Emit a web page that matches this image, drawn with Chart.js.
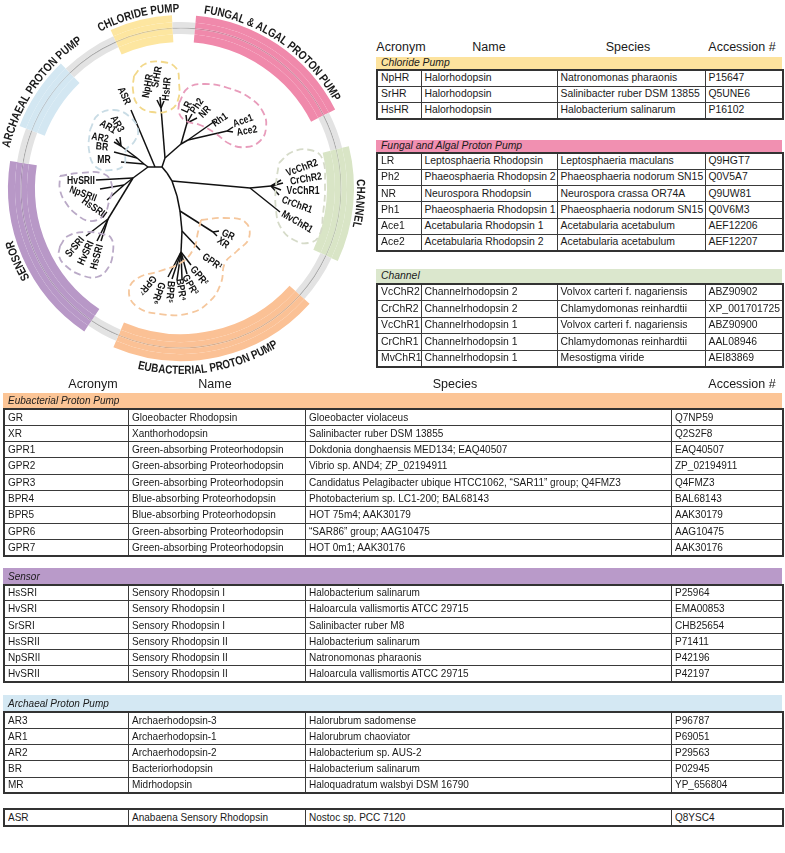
<!DOCTYPE html>
<html>
<head>
<meta charset="utf-8">
<script src="https://cdn.jsdelivr.net/npm/chart.js@4.4.0/dist/chart.umd.min.js"></script>
<style>
body{margin:0;background:#fff;width:785px;height:853px;position:relative;overflow:hidden;font-family:"Liberation Sans",Arial,sans-serif;color:#1a1a1a}
#ring,#tree{position:absolute;left:0;top:0;width:372px;height:400px}
.hdr{position:absolute;font-size:12.5px;transform:translate(-50%,-50%);white-space:nowrap}
.band{position:absolute;font-style:italic;padding-left:5px;box-sizing:border-box;white-space:nowrap}
table{position:absolute;border-collapse:collapse;table-layout:fixed;border:2px solid #333}
td{border:1px solid #3a3a3a;padding:0 0 0 3px;white-space:nowrap;overflow:hidden;line-height:1}
.top{font-size:10.4px}
.bot{font-size:11.4px}
.bot span{display:inline-block;transform:scaleX(0.88);transform-origin:0 50%}
</style>
</head>
<body>
<canvas id="ring" width="372" height="400"></canvas>
<canvas id="tree" width="372" height="400"></canvas>
<script>
// ring groups, angles in degrees clockwise from the top
const groupLabels = ['FUNGAL & ALGAL PROTON PUMP', 'CHANNEL', 'EUBACTERIAL PROTON PUMP', 'SENSOR', 'ARCHAEAL PROTON PUMP', 'CHLORIDE PUMP'];
const groupStart = [5, 76, 132, 214, 291, 336];
const groupEnd = [63, 115, 203, 279, 316, 357];
const groupColors = ['#f089ab', '#d9e5c6', '#fbc195', '#b898c7', '#d3e7f2', '#fde6a0'];
const labelAngle = [34, 95, 171, 246, 304.5, 346];

// tree: node, parent, position
const treeNode   = ['A','S','B','G','HR','NpHR','SrHR','HsHR','H','LRn','LR','Ph2','NR','J','Rh1','AceN','Ace1','Ace2','ASR','K','MR','L','BR','ARn','AR2','AR1','AR3','F','HvSRII','F2','NpSRII','HsSRII','SRIn','SrSRI','HvSRI','HsSRI','Bc','C','D','ChN','VcChR2','CrChR2','VcChR1','CrChR1','MvChR1','Cd','E','GXn','GR','XR','P','GPR1','Q','GPR2','GPR3','BPR4','BPR5','GPR6','GPR7'];
const treeParent = [null,'A','S','B','G','HR','HR','HR','G','H','LRn','LRn','LRn','H','J','J','AceN','AceN','S','A','K','K','L','L','ARn','ARn','ARn','A','F','F','F2','F2','F','SRIn','SRIn','SRIn','B','Bc','C','D','ChN','ChN','ChN','ChN','D','C','Cd','E','GXn','GXn','E','P','P','Q','Q','Q','Q','Q','Q'];
const treeX = [148,155,162,165,161,157,160,164,181,187,186,192,197,188,215,227,233,233,131,144,121,137,114,121,114,116,120,133,96,124,100,107,108,86,97,101,167,172,250,271,281,283,281,279,280,177,180,213,219,217,182,200,181,191,187,182,177,172,168];
const treeY = [167,167,167,158,108,100,97,101,144,123,115,114,118,140,121,131,127,132,110,164,162,158,152,146,142,139,137,178,180,185,189,200,219,236,241,241,173,181,188,186,180,183,190,195,212,196,211,232,231,236,231,250,252,265,274,279,280,279,277];

// leaf labels
const leafLabels = ['NpHR','SrHR','HsHR','LR','Ph2','NR','Rh1','Ace1','Ace2','ASR','AR3','AR1','AR2','BR','MR','HvSRII','NpSRII','HsSRII','SrSRI','HvSRI','HsSRI','VcChR2','CrChR2','VcChR1','CrChR1','MvChR1','GR','XR','GPR¹','GPR²','GPR³','BPR⁴','BPR⁵','GPR⁶','GPR⁷'];
const leafLX = [148,157,167,187,197,205,220,243,247,124,117,108,100,102,104,81,83,94,75,86,97,302,306,303,297,297,228,223,212,199,190,181,170,158,147];
const leafLY = [86,77,89,107,106,112,120,121,131,96,124,127,138,147,160,181,194,208,247,253,257,168,179,191,205,222,235,243,262,276,285,290,292,293,285];
const leafRot = [-80,-80,-85,-65,-55,-45,-35,-20,-10,65,60,30,10,5,0,0,20,35,-50,-65,-75,-20,-10,0,20,30,25,35,35,50,60,80,95,110,130];

// dashed clade outlines
const cladeColors = ['#f2d88a', '#e89cbb', '#c9dce5', '#baaac7', '#baaac7', '#d6dbc9', '#f5c79d'];
const cladeX = [
  [134,145,163,176,179,178,170,152,138,133],
  [179,188,205,228,250,263,266,260,246,230,215,200,186,179],
  [90,98,114,130,138,134,126,124,112,96,89],
  [60,80,104,112,109,103,90,76,66,60],
  [60,68,86,102,111,113,108,97,81,66,59],
  [279,292,310,322,325,323,319,308,294,281,276,276],
  [201,224,245,249,237,225,221,210,190,160,136,129,138,160,182,194,198]
];
const cladeY = [
  [76,64,62,68,82,100,110,112,105,90],
  [103,88,84,88,98,112,128,141,147,144,133,125,121,113],
  [130,115,110,117,130,142,150,165,170,167,150],
  [176,173,174,186,202,216,221,214,203,190],
  [246,236,232,234,238,252,268,277,275,266,256],
  [163,152,150,158,185,214,236,243,240,228,210,185],
  [220,218,222,238,251,263,283,301,313,314,306,290,278,271,262,248,232]
];

// tables
const colHeaders = ['Acronym', 'Name', 'Species', 'Accession #'];
const chlorideRows = [
  ['NpHR','Halorhodopsin','Natronomonas pharaonis','P15647'],
  ['SrHR','Halorhodopsin','Salinibacter ruber DSM 13855','Q5UNE6'],
  ['HsHR','Halorhodopsin','Halobacterium salinarum','P16102']
];
const fungalRows = [
  ['LR','Leptosphaeria Rhodopsin','Leptosphaeria maculans','Q9HGT7'],
  ['Ph2','Phaeosphaeria Rhodopsin 2','Phaeosphaeria nodorum SN15','Q0V5A7'],
  ['NR','Neurospora Rhodopsin','Neurospora crassa OR74A','Q9UW81'],
  ['Ph1','Phaeosphaeria Rhodopsin 1','Phaeosphaeria nodorum SN15','Q0V6M3'],
  ['Ace1','Acetabularia Rhodopsin 1','Acetabularia acetabulum','AEF12206'],
  ['Ace2','Acetabularia Rhodopsin 2','Acetabularia acetabulum','AEF12207']
];
const channelRows = [
  ['VcChR2','Channelrhodopsin 2','Volvox carteri f. nagariensis','ABZ90902'],
  ['CrChR2','Channelrhodopsin 2','Chlamydomonas reinhardtii','XP_001701725'],
  ['VcChR1','Channelrhodopsin 1','Volvox carteri f. nagariensis','ABZ90900'],
  ['CrChR1','Channelrhodopsin 1','Chlamydomonas reinhardtii','AAL08946'],
  ['MvChR1','Channelrhodopsin 1','Mesostigma viride','AEI83869']
];
const eubacterialRows = [
  ['GR','Gloeobacter Rhodopsin','Gloeobacter violaceus','Q7NP59'],
  ['XR','Xanthorhodopsin','Salinibacter ruber DSM 13855','Q2S2F8'],
  ['GPR1','Green-absorbing Proteorhodopsin','Dokdonia donghaensis MED134; EAQ40507','EAQ40507'],
  ['GPR2','Green-absorbing Proteorhodopsin','Vibrio sp. AND4; ZP_02194911','ZP_02194911'],
  ['GPR3','Green-absorbing Proteorhodopsin','Candidatus Pelagibacter ubique HTCC1062, “SAR11” group; Q4FMZ3','Q4FMZ3'],
  ['BPR4','Blue-absorbing Proteorhodopsin','Photobacterium sp. LC1-200; BAL68143','BAL68143'],
  ['BPR5','Blue-absorbing Proteorhodopsin','HOT 75m4; AAK30179','AAK30179'],
  ['GPR6','Green-absorbing Proteorhodopsin','“SAR86” group; AAG10475','AAG10475'],
  ['GPR7','Green-absorbing Proteorhodopsin','HOT 0m1; AAK30176','AAK30176']
];
const sensorRows = [
  ['HsSRI','Sensory Rhodopsin I','Halobacterium salinarum','P25964'],
  ['HvSRI','Sensory Rhodopsin I','Haloarcula vallismortis ATCC 29715','EMA00853'],
  ['SrSRI','Sensory Rhodopsin I','Salinibacter ruber M8','CHB25654'],
  ['HsSRII','Sensory Rhodopsin II','Halobacterium salinarum','P71411'],
  ['NpSRII','Sensory Rhodopsin II','Natronomonas pharaonis','P42196'],
  ['HvSRII','Sensory Rhodopsin II','Haloarcula vallismortis ATCC 29715','P42197']
];
const archaealRows = [
  ['AR3','Archaerhodopsin-3','Halorubrum sadomense','P96787'],
  ['AR1','Archaerhodopsin-1','Halorubrum chaoviator','P69051'],
  ['AR2','Archaerhodopsin-2','Halobacterium sp. AUS-2','P29563'],
  ['BR','Bacteriorhodopsin','Halobacterium salinarum','P02945'],
  ['MR','Midrhodopsin','Haloquadratum walsbyi DSM 16790','YP_656804']
];
const otherRows = [
  ['ASR','Anabaena Sensory Rhodopsin','Nostoc sp. PCC 7120','Q8YSC4']
];

function mix(hex, other, t) {
  const a = parseInt(hex.slice(1), 16), b = parseInt(other.slice(1), 16);
  const ch = s => Math.round(((a >> s) & 255) * (1 - t) + ((b >> s) & 255) * t);
  return 'rgb(' + ch(16) + ',' + ch(8) + ',' + ch(0) + ')';
}

// ---- ring (doughnut) ----
const segVals = [], segCols = [];
let prev = 0;
groupStart.forEach((s, i) => {
  segVals.push(s - prev); segCols.push(null);
  segVals.push(groupEnd[i] - s); segCols.push(groupColors[i]);
  prev = groupEnd[i];
});
segVals.push(360 - prev); segCols.push(null);

const layers = [
  {w: 7,   gap: 'rgba(0,0,0,0)', line: false},
  {w: 5.4, gap: '#e3e3e3', line: false},
  {w: 1.2, gap: '#ababab', line: true},
  {w: 5.4, gap: '#e3e3e3', line: false},
  {w: 8,   gap: 'rgba(0,0,0,0)', line: false}
];

// condensed bold look: draw glyphs squeezed horizontally
const SQUEEZE = 0.82;

function drawArcText(ctx, text, cx, cy, r, angDeg, flip) {
  const total = ctx.measureText(text).width * SQUEEZE / r;
  let a = angDeg * Math.PI / 180 + (flip ? total / 2 : -total / 2);
  for (const ch of text) {
    const w = ctx.measureText(ch).width * SQUEEZE / r;
    const m = flip ? a - w / 2 : a + w / 2;
    ctx.save();
    ctx.translate(cx + r * Math.sin(m), cy - r * Math.cos(m));
    ctx.rotate(flip ? m - Math.PI : m);
    ctx.scale(SQUEEZE, 1);
    ctx.fillText(ch, 0, 0);
    ctx.restore();
    a = flip ? a - w : a + w;
  }
}

const arcLabels = {
  id: 'arcLabels',
  afterDraw(chart) {
    const arc = chart.getDatasetMeta(0).data[0];
    const ctx = chart.ctx;
    ctx.save();
    ctx.font = 'bold 12px "Liberation Sans", Arial, sans-serif';
    ctx.fillStyle = '#1a1a1a';
    ctx.textAlign = 'center';
    ctx.textBaseline = 'alphabetic';
    groupLabels.forEach((t, i) => {
      const bottom = labelAngle[i] > 120 && labelAngle[i] < 240;
      drawArcText(ctx, t, arc.x, arc.y, bottom ? 186 : 176, labelAngle[i], bottom);
    });
    ctx.restore();
  }
};

// chart area 346 x 346 -> outer radius 173 centred on (181, 188)
new Chart(document.getElementById('ring'), {
  type: 'doughnut',
  data: {
    labels: segVals.map((v, i) => 's' + i),
    datasets: layers.map(l => ({
      data: segVals,
      weight: l.w,
      borderWidth: 0,
      backgroundColor: segCols.map(c => c ? (l.line ? mix(c, '#808080', 0.3) : c) : l.gap)
    }))
  },
  options: {
    responsive: false,
    animation: false,
    events: [],
    cutout: (146 / 173 * 100) + '%',
    rotation: 0,
    layout: {padding: {left: 8, top: 15, right: 18, bottom: 39}},
    plugins: {legend: {display: false}, tooltip: {enabled: false}}
  },
  plugins: [arcLabels]
});

// ---- tree (scatter lines) ----
const treeSets = [];
cladeX.forEach((xs, k) => {
  const pts = xs.map((x, i) => ({x: x, y: cladeY[k][i]}));
  pts.push(pts[0]);
  treeSets.push({data: pts, showLine: true, tension: 0.45, borderColor: cladeColors[k],
    borderWidth: 1.8, borderDash: [7, 4], pointRadius: 0});
});
treeNode.forEach((n, i) => {
  const p = treeNode.indexOf(treeParent[i]);
  if (p < 0) return;
  treeSets.push({data: [{x: treeX[p], y: treeY[p]}, {x: treeX[i], y: treeY[i]}],
    showLine: true, borderColor: '#111', borderWidth: 1.5, pointRadius: 0});
});

const leafText = {
  id: 'leafText',
  afterDatasetsDraw(chart) {
    const {ctx, scales: {x, y}} = chart;
    ctx.save();
    ctx.font = 'bold 10.5px "Liberation Sans", Arial, sans-serif';
    ctx.fillStyle = '#111';
    ctx.textAlign = 'center';
    ctx.textBaseline = 'middle';
    leafLabels.forEach((t, i) => {
      ctx.save();
      ctx.translate(x.getPixelForValue(leafLX[i]), y.getPixelForValue(leafLY[i]));
      ctx.rotate(leafRot[i] * Math.PI / 180);
      ctx.scale(SQUEEZE, 1);
      ctx.fillText(t, 0, 0);
      ctx.restore();
    });
    ctx.restore();
  }
};

new Chart(document.getElementById('tree'), {
  type: 'scatter',
  data: {datasets: treeSets},
  options: {
    responsive: false,
    animation: false,
    events: [],
    layout: {padding: 0, autoPadding: false},
    scales: {
      x: {type: 'linear', min: 0, max: 372, display: false},
      y: {type: 'linear', min: 0, max: 400, reverse: true, display: false}
    },
    plugins: {legend: {display: false}, tooltip: {enabled: false}}
  },
  plugins: [leafText]
});

// ---- tables ----
function addHeaders(xs, y) {
  colHeaders.forEach((h, i) => {
    const d = document.createElement('div');
    d.className = 'hdr';
    d.style.left = xs[i] + 'px';
    d.style.top = y + 'px';
    d.textContent = h;
    document.body.appendChild(d);
  });
}

function addBlock(title, color, rows, left, widths, bandTop, rowTop, rowH, cls) {
  const total = widths.reduce((a, b) => a + b, 0);
  if (title) {
    const band = document.createElement('div');
    band.className = 'band ' + cls;
    Object.assign(band.style, {left: left + 'px', top: bandTop + 'px', width: total + 'px',
      height: (rowTop - bandTop) + 'px', lineHeight: (rowTop - bandTop) + 'px', background: color});
    const s = document.createElement('span');
    s.textContent = title;
    band.appendChild(s);
    document.body.appendChild(band);
  }
  const t = document.createElement('table');
  t.className = cls;
  Object.assign(t.style, {left: left + 'px', top: rowTop + 'px', width: total + 'px', height: (rows.length * rowH) + 'px'});
  const cg = document.createElement('colgroup');
  widths.forEach(w => { const c = document.createElement('col'); c.style.width = w + 'px'; cg.appendChild(c); });
  t.appendChild(cg);
  rows.forEach(r => {
    const tr = t.insertRow();
    tr.style.height = rowH + 'px';
    r.forEach(v => {
      const s = document.createElement('span');
      s.textContent = v;
      tr.insertCell().appendChild(s);
    });
  });
  document.body.appendChild(t);
}

const topW = [44, 136, 148, 78], botW = [124, 177, 366, 112];
addHeaders([401, 489, 628, 742], 47);
addBlock('Chloride Pump', '#fde39e', chlorideRows, 376, topW, 56.5, 69, 16.3, 'top');
addBlock('Fungal and Algal Proton Pump', '#f190b1', fungalRows, 376, topW, 139.5, 152, 16.3, 'top');
addBlock('Channel', '#dbe7cd', channelRows, 376, topW, 269, 283, 16.5, 'top');
addHeaders([93, 215, 455, 742], 384);
addBlock('Eubacterial Proton Pump', '#fcc596', eubacterialRows, 3, botW, 392.5, 408, 16.3, 'bot');
addBlock('Sensor', '#b99ac9', sensorRows, 3, botW, 567.5, 583.5, 16.3, 'bot');
addBlock('Archaeal Proton Pump', '#d4e8f3', archaealRows, 3, botW, 695, 711, 16.3, 'bot');
addBlock(null, null, otherRows, 3, botW, 808, 808, 16.5, 'bot');
</script>
</body>
</html>
